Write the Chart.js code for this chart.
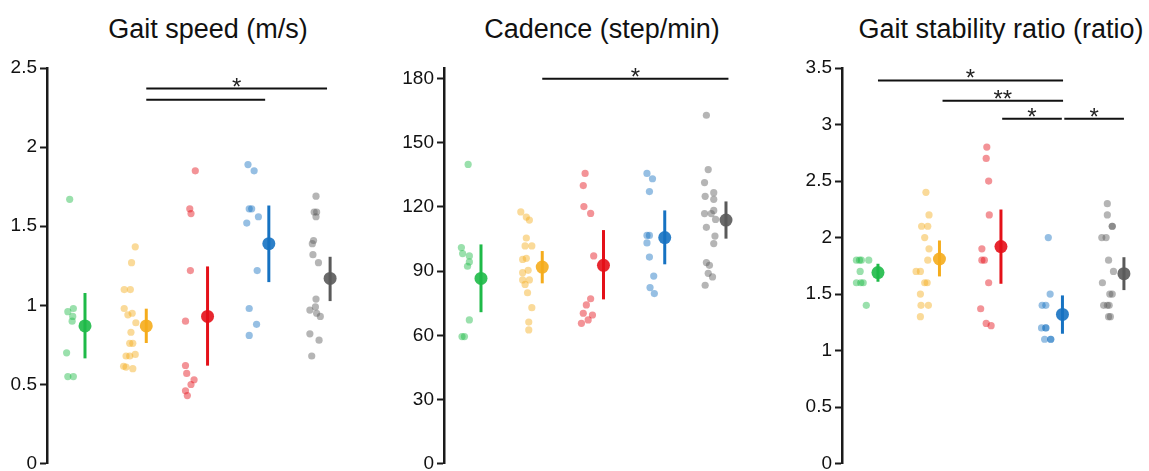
<!DOCTYPE html>
<html>
<head>
<meta charset="utf-8">
<script src="https://cdn.jsdelivr.net/npm/chart.js@4/dist/chart.umd.min.js"></script>
<style>
  body { margin: 0; background: #fff; width: 1149px; height: 471px; overflow: hidden; position: relative; }
  .panel { position: absolute; top: 0; width: 383px; height: 478px; }
  .title { position: absolute; top: 14px; width: 400px; height: 27px; line-height: 27px;
           text-align: center; font: 27px "Liberation Sans", Arial, sans-serif; color: #111; }
</style>
</head>
<body>
<div class="title" style="left:8px">Gait speed (m/s)</div>
<div class="title" style="left:402px">Cadence (step/min)</div>
<div class="title" style="left:801px">Gait stability ratio (ratio)</div>
<div class="panel" style="left:0px"><canvas id="speedChart"></canvas></div>
<div class="panel" style="left:383px"><canvas id="cadenceChart"></canvas></div>
<div class="panel" style="left:766px"><canvas id="ratioChart"></canvas></div>
<script>
// group colours, same order in every panel
let groupColors = ["30,186,72", "245,172,28", "228,16,24", "22,114,194", "90,90,90"];

// ---- Gait speed (m/s) ----
let speedTicks = [0, 0.5, 1, 1.5, 2, 2.5];
let speedPoints = [
  [1.67, 0.96, 0.98, 0.93, 0.90, 0.70, 0.55, 0.55],
  [1.37, 1.27, 1.10, 1.10, 0.98, 0.94, 0.95, 0.89, 0.83, 0.76, 0.76, 0.68, 0.68, 0.69, 0.615, 0.61, 0.60],
  [1.85, 1.61, 1.58, 1.22, 0.90, 0.62, 0.57, 0.53, 0.50, 0.46, 0.43],
  [1.89, 1.85, 1.61, 1.61, 1.52, 1.56, 1.22, 0.98, 0.88, 0.81],
  [1.69, 1.59, 1.59, 1.56, 1.41, 1.39, 1.32, 1.27, 1.04, 0.99, 0.97, 0.95, 0.93, 0.82, 0.78, 0.68]
];
let speedJitter = [
  [-0.25, -0.28, -0.19, -0.20, -0.21, -0.30, -0.28, -0.19],
  [-0.18, -0.24, -0.36, -0.26, -0.36, -0.30, -0.23, -0.17, -0.25, -0.27, -0.22, -0.33, -0.27, -0.18, -0.37, -0.33, -0.22],
  [-0.20, -0.29, -0.27, -0.28, -0.36, -0.36, -0.34, -0.22, -0.27, -0.36, -0.33],
  [-0.34, -0.24, -0.32, -0.28, -0.36, -0.17, -0.19, -0.32, -0.20, -0.32],
  [-0.23, -0.26, -0.22, -0.23, -0.27, -0.29, -0.28, -0.19, -0.23, -0.24, -0.33, -0.22, -0.16, -0.33, -0.18, -0.30]
];
let speedMean = [0.87, 0.87, 0.93, 1.39, 1.17];
let speedLow = [0.665, 0.762, 0.619, 1.147, 1.027];
let speedHigh = [1.078, 0.979, 1.246, 1.631, 1.307];
// significance: [from group, to group, y, label]
let speedSig = [[1, 3.95, 2.37, "*"], [1, 2.94, 2.30, ""]];

// ---- Cadence (step/min) ----
let cadenceTicks = [0, 30, 60, 90, 120, 150, 180];
let cadencePoints = [
  [139.9, 101.0, 98.2, 97.1, 94.3, 92.3, 67.2, 59.4, 59.4],
  [117.7, 115.3, 113.9, 105.5, 101.8, 101.8, 95.5, 96.0, 89.3, 90.4, 85.9, 85.9, 83.8, 79.9, 72.9, 66.2, 62.5],
  [135.7, 130.0, 120.2, 117.0, 97.1, 77.1, 74.2, 70.3, 69.5, 67.2, 65.6],
  [135.7, 133.2, 127.2, 106.7, 106.7, 103.2, 96.6, 87.7, 82.3, 79.5],
  [162.9, 137.5, 131.4, 125.0, 126.7, 123.6, 116.9, 118.4, 116.9, 114.2, 110.5, 106.4, 102.9, 94.0, 92.7, 89.0, 87.3, 83.4]
];
let cadenceJitter = [
  [-0.21, -0.32, -0.30, -0.19, -0.19, -0.22, -0.19, -0.31, -0.27],
  [-0.35, -0.26, -0.21, -0.26, -0.28, -0.17, -0.32, -0.26, -0.32, -0.23, -0.32, -0.21, -0.28, -0.24, -0.17, -0.22, -0.22],
  [-0.30, -0.33, -0.32, -0.21, -0.16, -0.21, -0.28, -0.33, -0.18, -0.25, -0.36],
  [-0.29, -0.20, -0.25, -0.29, -0.25, -0.29, -0.25, -0.18, -0.24, -0.17],
  [-0.32, -0.29, -0.35, -0.34, -0.20, -0.20, -0.35, -0.20, -0.24, -0.17, -0.32, -0.18, -0.20, -0.32, -0.27, -0.29, -0.22, -0.34]
];
let cadenceMean = [86.6, 91.9, 92.7, 105.7, 113.9];
let cadenceLow = [70.8, 84.3, 76.8, 93.2, 105.2];
let cadenceHigh = [102.5, 99.4, 109.2, 118.4, 122.6];
let cadenceSig = [[1, 4.04, 180, "*"]];

// ---- Gait stability ratio (ratio) ----
let ratioTicks = [0, 0.5, 1, 1.5, 2, 2.5, 3, 3.5];
let ratioPoints = [
  [1.8, 1.8, 1.8, 1.8, 1.7, 1.6, 1.6, 1.6, 1.4],
  [2.4, 2.2, 2.1, 2.1, 2.0, 1.9, 1.8, 1.7, 1.7, 1.6, 1.6, 1.5, 1.4, 1.4, 1.3],
  [2.8, 2.7, 2.5, 2.2, 1.9, 1.8, 1.8, 1.6, 1.37, 1.24, 1.22],
  [2.0, 1.5, 1.4, 1.4, 1.2, 1.2, 1.2, 1.1, 1.1, 1.1],
  [2.3, 2.2, 2.1, 2.1, 2.0, 2.0, 1.8, 1.7, 1.6, 1.5, 1.5, 1.4, 1.4, 1.4, 1.3, 1.3]
];
let ratioJitter = [
  [-0.35, -0.30, -0.27, -0.15, -0.29, -0.35, -0.28, -0.24, -0.19],
  [-0.22, -0.17, -0.29, -0.19, -0.24, -0.17, -0.19, -0.38, -0.31, -0.24, -0.20, -0.31, -0.30, -0.18, -0.31],
  [-0.23, -0.24, -0.20, -0.19, -0.31, -0.31, -0.27, -0.20, -0.33, -0.24, -0.16],
  [-0.23, -0.20, -0.33, -0.27, -0.34, -0.27, -0.27, -0.29, -0.19, -0.19],
  [-0.27, -0.27, -0.19, -0.19, -0.36, -0.29, -0.25, -0.17, -0.35, -0.23, -0.19, -0.33, -0.27, -0.24, -0.25, -0.22]
];
let ratioMean = [1.69, 1.81, 1.92, 1.32, 1.68];
let ratioLow = [1.609, 1.656, 1.591, 1.149, 1.535];
let ratioHigh = [1.768, 1.974, 2.248, 1.488, 1.826];
let ratioSig = [[0, 3.01, 3.39, "*"], [1.05, 3.01, 3.21, "**"], [2.02, 2.99, 3.05, "*"], [3.03, 4.0, 3.05, "*"]];


// draws the stars over the significance lines
let starPlugin = {
  id: "stars",
  afterDatasetsDraw(chart, args, opts) {
    let ctx = chart.ctx;
    let xs = chart.scales.x, ys = chart.scales.y;
    ctx.save();
    ctx.fillStyle = "#222";
    ctx.font = '24px "Liberation Sans", Arial, sans-serif';
    ctx.textAlign = "center";
    ctx.textBaseline = "alphabetic";
    opts.sig.forEach(s => {
      if (!s[3]) return;
      let px = xs.getPixelForValue((s[0] + s[1]) / 2);
      let py = ys.getPixelForValue(s[2]);
      ctx.fillText(s[3], px, py + 6);
    });
    ctx.restore();
  }
};

function makePanel(id, points, jitter, mean, low, high, sig, ticks, yMax, axisW, xMin, xMax) {
  let datasets = [];

  datasets.push({
    data: mean.map((m, i) => ({ x: i, y: m })),
    pointRadius: 6.5,
    pointBorderWidth: 0,
    pointBackgroundColor: groupColors.map(c => "rgba(" + c + ",0.9)")
  });

  groupColors.forEach((c, i) => {
    datasets.push({
      data: [{ x: i, y: low[i] }, { x: i, y: high[i] }],
      showLine: true,
      borderColor: "rgb(" + c + ")",
      borderWidth: 3,
      pointRadius: 0
    });
  });

  groupColors.forEach((c, i) => {
    datasets.push({
      data: points[i].map((v, k) => ({ x: i + jitter[i][k], y: v })),
      pointRadius: 3.6,
      pointBorderWidth: 0,
      pointBackgroundColor: "rgba(" + c + ",0.45)"
    });
  });

  sig.forEach(s => {
    datasets.push({
      data: [{ x: s[0], y: s[2] }, { x: s[1], y: s[2] }],
      showLine: true,
      borderColor: "#111",
      borderWidth: 2,
      pointRadius: 0
    });
  });

  datasets.forEach(d => { d.clip = false; });

  return new Chart(document.getElementById(id), {
    type: "scatter",
    data: { datasets: datasets },
    options: {
      responsive: true,
      maintainAspectRatio: false,
      animation: false,
      events: [],
      layout: { padding: { top: 68, right: 10, bottom: 0, left: 0 } },
      plugins: {
        legend: { display: false },
        tooltip: { enabled: false },
        stars: { sig: sig }
      },
      scales: {
        x: { type: "linear", display: false, min: xMin, max: xMax },
        y: {
          min: 0,
          max: yMax,
          afterBuildTicks: s => { s.ticks = ticks.map(v => ({ value: v })); },
          afterFit: s => { s.width = axisW; },
          border: { display: true, color: "#1a1a1a", width: 2.5 },
          grid: { drawOnChartArea: false, drawTicks: true, tickLength: 7, tickWidth: 2, tickColor: "#1a1a1a" },
          ticks: {
            padding: 3,
            color: "#111",
            font: { family: '"Liberation Sans", Arial, sans-serif', size: 19 },
            callback: v => String(v)
          }
        }
      }
    },
    plugins: [starPlugin]
  });
}

makePanel("speedChart", speedPoints, speedJitter, speedMean, speedLow, speedHigh, speedSig, speedTicks, 2.5, 47, -0.62, 4.70);
makePanel("cadenceChart", cadencePoints, cadenceJitter, cadenceMean, cadenceLow, cadenceHigh, cadenceSig, cadenceTicks, 185, 61, -0.604, 4.49);
makePanel("ratioChart", ratioPoints, ratioJitter, ratioMean, ratioLow, ratioHigh, ratioSig, ratioTicks, 3.5, 76, -0.585, 4.245);
</script>
</body>
</html>
